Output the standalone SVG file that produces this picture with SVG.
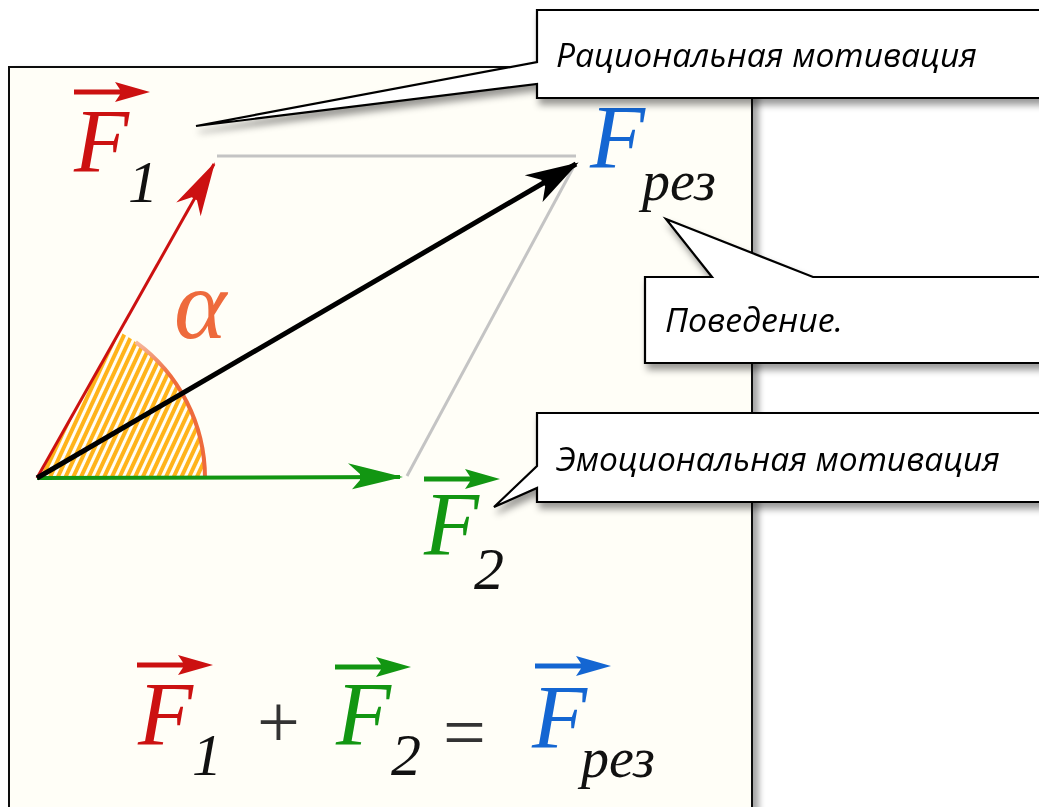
<svg xmlns="http://www.w3.org/2000/svg" width="1039" height="807" viewBox="0 0 1039 807">
<style>
.sym{font-family:"Liberation Serif","Times New Roman",serif;font-style:italic}
.big{font-size:90px}
.sub{font-size:60px;fill:#111}
.subr{font-size:56px;fill:#111}
.op{font-family:"Liberation Serif","Times New Roman",serif;font-size:76px;fill:#333}
.red{fill:#CC1111}
.grn{fill:#129612}
.blu{fill:#1466D2}
.call{fill:#FFFFFF;stroke:#000;stroke-width:2.2;stroke-linejoin:miter}
.ct{font-family:"Open Sans","Noto Sans","Liberation Sans",sans-serif;font-style:italic;font-size:33px;fill:#000}
</style>
<defs>
<filter id="sh" x="-10%" y="-20%" width="130%" height="160%">
<feDropShadow dx="3" dy="6" stdDeviation="3.5" flood-color="#000" flood-opacity="0.4"/>
</filter>
<filter id="shp" x="-5%" y="-5%" width="110%" height="110%">
<feDropShadow dx="6" dy="4" stdDeviation="3" flood-color="#000" flood-opacity="0.35"/>
</filter>
<pattern id="hatch" width="7" height="8" patternUnits="userSpaceOnUse" patternTransform="rotate(25)">
<rect x="0" y="0" width="4" height="8" fill="#FFB31A"/>
</pattern>
<clipPath id="sector">
<path d="M37,478 L205,478 A168,168 0 0 0 119.7,331.8 Z"/>
</clipPath>
<linearGradient id="arcg" x1="0" y1="1" x2="0" y2="0">
<stop offset="0" stop-color="#EE6A3C"/>
<stop offset="0.75" stop-color="#EE6A3C"/>
<stop offset="1" stop-color="#F6B89E"/>
</linearGradient>
<marker id="mr" viewBox="-56 -18 60 36" markerWidth="60" markerHeight="36" refX="0" refY="0" orient="auto" markerUnits="userSpaceOnUse">
<path d="M2,0 L-52,-14 L-40,-3 L-40,3 L-52,14 Z" fill="#CC1111"/>
</marker>
<marker id="mk" viewBox="-56 -18 60 36" markerWidth="60" markerHeight="36" refX="0" refY="0" orient="auto" markerUnits="userSpaceOnUse">
<path d="M3,0 L-50,-16 L-38,-4 L-38,4 L-48,16 Z" fill="#000"/>
</marker>
<marker id="mg" viewBox="-56 -18 60 36" markerWidth="60" markerHeight="36" refX="0" refY="0" orient="auto" markerUnits="userSpaceOnUse">
<path d="M3,0 L-52,-14 L-40,-3 L-40,3 L-48,12 Z" fill="#129612"/>
</marker>
<path id="varrow" d="M0,-2.5 L46,-2.5 L41,-10 L76,0 L41,10 L46,2.5 L0,2.5 Z"/>
</defs>

<rect x="0" y="0" width="1039" height="807" fill="#FFFFFF"/>

<g id="panel">
<rect x="9" y="67" width="743" height="760" fill="#FFFEF7" stroke="#111" stroke-width="2" filter="url(#shp)"/>
</g>

<g id="angle">
<rect x="30" y="320" width="180" height="160" fill="url(#hatch)" clip-path="url(#sector)"/>
<path d="M205,478 A168,168 0 0 0 135.7,342.1" fill="none" stroke="url(#arcg)" stroke-width="4"/>
<text class="sym" x="174" y="338" font-size="100" fill="#EE6A3C">α</text>
</g>

<g id="connectors">
<line x1="217" y1="156" x2="576" y2="156" stroke="#C4C4C4" stroke-width="3"/>
<line x1="573" y1="168" x2="407" y2="476" stroke="#C4C4C4" stroke-width="3"/>
<line x1="37" y1="478" x2="214" y2="164" stroke="#CC1111" stroke-width="3" marker-end="url(#mr)"/>
<line x1="37" y1="478" x2="400" y2="477" stroke="#129612" stroke-width="4" marker-end="url(#mg)"/>
<line x1="37" y1="478" x2="576" y2="164" stroke="#000" stroke-width="5" marker-end="url(#mk)"/>
</g>

<g id="label-F1">
<use href="#varrow" x="74" y="92" fill="#CC1111"/>
<text class="sym big red" x="74" y="172">F</text>
<text class="sym sub" x="128" y="202">1</text>
</g>

<g id="label-F2">
<use href="#varrow" x="424" y="479" fill="#129612"/>
<text class="sym big grn" x="424" y="555">F</text>
<text class="sym sub" x="474" y="589">2</text>
</g>

<g id="label-Fres">
<text class="sym big blu" x="590" y="168">F</text>
<text class="sym subr" x="642" y="200">рез</text>
</g>

<g id="equation">
<use href="#varrow" x="137" y="665" fill="#CC1111"/>
<text class="sym big red" x="138" y="745">F</text>
<text class="sym sub" x="192" y="775">1</text>
<text class="op" x="257" y="747">+</text>
<use href="#varrow" x="335" y="667" fill="#129612"/>
<text class="sym big grn" x="336" y="745">F</text>
<text class="sym sub" x="391" y="775">2</text>
<text class="op" x="443" y="758">=</text>
<use href="#varrow" x="535" y="666" fill="#1466D2"/>
<text class="sym big blu" x="532" y="748">F</text>
<text class="sym subr" x="581" y="777">рез</text>
</g>

<g id="callout-rational" filter="url(#sh)">
<path class="call" d="M537,10 L1046,10 L1046,98 L537,98 L537,84 L196,126 L537,62 Z"/>
<text class="ct" x="556" y="67" textLength="421" lengthAdjust="spacingAndGlyphs">Рациональная мотивация</text>
</g>

<g id="callout-behavior" filter="url(#sh)">
<path class="call" d="M645,277 L712,277 L666,219 L813,277 L1046,277 L1046,363 L645,363 Z"/>
<text class="ct" x="665" y="332" textLength="178" lengthAdjust="spacingAndGlyphs">Поведение.</text>
</g>

<g id="callout-emotional" filter="url(#sh)">
<path class="call" d="M537,413 L1046,413 L1046,502 L537,502 L537,488 L494,507 L537,466 Z"/>
<text class="ct" x="556" y="471" textLength="444" lengthAdjust="spacingAndGlyphs">Эмоциональная мотивация</text>
</g>
</svg>
